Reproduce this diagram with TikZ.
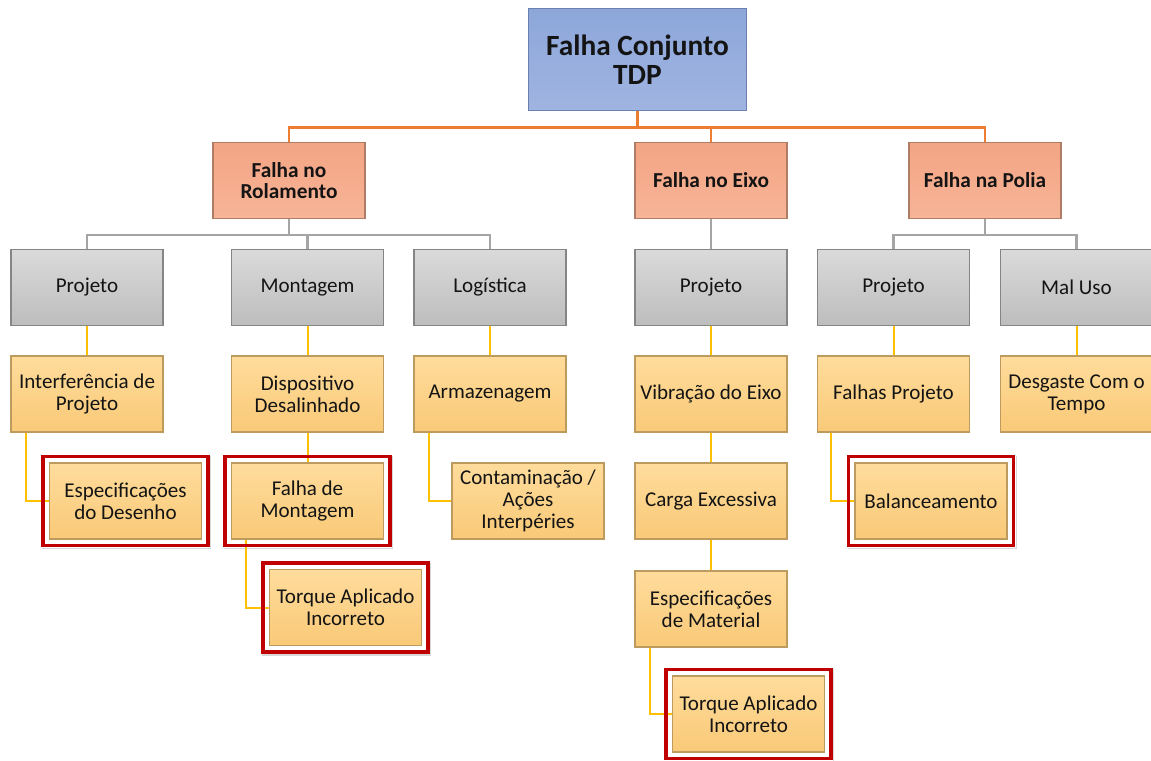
\documentclass[tikz,border=0pt]{standalone}
\usepackage{fontspec}
\setmainfont{Carlito}
\usetikzlibrary{fit,shadows}

\pgfdeclarelayer{bg}
\pgfdeclarelayer{fg}
\pgfsetlayers{bg,main,fg}

\definecolor{rootA}{HTML}{8DA7DA}
\definecolor{rootB}{HTML}{A0B4E1}
\definecolor{rootline}{HTML}{6B80AE}
\definecolor{salA}{HTML}{F3A584}
\definecolor{salB}{HTML}{F7B497}
\definecolor{salline}{HTML}{AF7C66}
\definecolor{grayA}{HTML}{DADADA}
\definecolor{grayB}{HTML}{BDBDBD}
\definecolor{grayline}{HTML}{858585}
\definecolor{yelA}{HTML}{FFDC9C}
\definecolor{yelB}{HTML}{F9C977}
\definecolor{yelline}{HTML}{BD9A5E}
\definecolor{linkorange}{HTML}{ED7D31}
\definecolor{linkgray}{HTML}{A5A5A5}
\definecolor{linkgold}{HTML}{FFC000}
\definecolor{ringred}{HTML}{C00000}
\definecolor{ink}{HTML}{141414}

\begin{document}
\begin{tikzpicture}[x=0.75pt,y=-0.75pt,
  box/.style={draw, line width=0.8pt, minimum width=114pt, minimum height=57pt,
    inner sep=0pt, align=center, text=ink},
  rootbox/.style={box, top color=rootA, bottom color=rootB, draw=rootline,
    minimum width=164pt, minimum height=77pt,
    font=\fontsize{22}{21.5}\selectfont\bfseries},
  catbox/.style={box, top color=salA, bottom color=salB, draw=salline,
    font=\fontsize{16}{15.5}\selectfont\bfseries},
  groupbox/.style={box, top color=grayA, bottom color=grayB, draw=grayline,
    font=\fontsize{15.8}{16.5}\selectfont},
  causebox/.style={box, top color=yelA, bottom color=yelB, draw=yelline,
    font=\fontsize{15.8}{16.5}\selectfont},
  obus/.style={draw=linkorange, line width=1.9pt},
  gbus/.style={draw=linkgray, line width=1.9pt},
  ylink/.style={draw=linkgold, line width=1.5pt},
  ringback/.style={fill=white, draw=none, inner sep=6pt,
    drop shadow={opacity=0.3, shadow xshift=1pt, shadow yshift=-1.2pt}},
  ring/.style={draw=ringred, line width=2.7pt, inner sep=4.6pt}
]
\begin{pgfonlayer}{bg}
  \fill[white] (0,0) rectangle (1151,760);
\end{pgfonlayer}
\useasboundingbox (0,0) rectangle (1151,760);

% root
\node[rootbox] (root) at (637.5,59.5) {Falha Conjunto\\TDP};

% failure categories
\node[catbox] (rol)   at (289,180.5) {Falha no\\Rolamento};
\node[catbox] (eixo)  at (711,180.5) {Falha no Eixo};
\node[catbox] (polia) at (985,180.5) {Falha na Polia};

% groups
\node[groupbox] (rproj) at (87,287.5)    {Projeto};
\node[groupbox] (rmont) at (307.5,287.5) {Montagem};
\node[groupbox] (rlog)  at (490,287.5)   {Logística};
\node[groupbox] (eproj) at (711,287.5)   {Projeto};
\node[groupbox] (pproj) at (893.5,287.5) {Projeto};
\node[groupbox] (pmal)  at (1076.5,287.5){Mal Uso};

% causes, first level
\node[causebox] (interf) at (87,394)     {Interferência de\\Projeto};
\node[causebox] (disp)   at (307.5,394)  {Dispositivo\\Desalinhado};
\node[causebox] (armaz)  at (490,394)    {Armazenagem};
\node[causebox] (vibr)   at (711,394)    {Vibração do Eixo};
\node[causebox] (fproj)  at (893.5,394)  {Falhas Projeto};
\node[causebox] (desg)   at (1076.5,394) {Desgaste Com o\\Tempo};

% causes, second level
\node[causebox] (espd)   at (125.5,501) {Especificações\\do Desenho};
\node[causebox] (fmont)  at (307.5,501) {Falha de\\Montagem};
\node[causebox] (contam) at (528,501)   {Contaminação /\\Ações\\Interpéries};
\node[causebox] (carga)  at (711,501)   {Carga Excessiva};
\node[causebox] (balan)  at (931,501)   {Balanceamento};

% causes, deeper levels
\node[causebox] (torqa) at (345.5,607.5) {Torque Aplicado\\Incorreto};
\node[causebox] (espm)  at (711,609)     {Especificações\\de Material};
\node[causebox] (torqb) at (748.5,714)   {Torque Aplicado\\Incorreto};

% root to categories
\draw[obus] (root.south) -- ([yshift=-12pt]root.south) -| (rol.north);
\draw[obus] ([yshift=-12pt]root.south) -| (eixo.north);
\draw[obus] ([yshift=-12pt]root.south) -| (polia.north);

% categories to groups
\draw[gbus] (rol.south) -- ([yshift=-12pt]rol.south) -| (rproj.north);
\draw[gbus] ([yshift=-12pt]rol.south) -| (rmont.north);
\draw[gbus] ([yshift=-12pt]rol.south) -| (rlog.north);
\draw[gbus] (eixo.south) -- (eproj.north);
\draw[gbus] (polia.south) -- ([yshift=-12pt]polia.south) -| (pproj.north);
\draw[gbus] ([yshift=-12pt]polia.south) -| (pmal.north);

% groups to causes
\draw[ylink] (rproj.south) -- (interf.north);
\draw[ylink] (rmont.south) -- (disp.north);
\draw[ylink] (rlog.south)  -- (armaz.north);
\draw[ylink] (eproj.south) -- (vibr.north);
\draw[ylink] (pproj.south) -- (fproj.north);
\draw[ylink] (pmal.south)  -- (desg.north);

% cause chains
\draw[ylink] (disp.south) -- (fmont.north);
\draw[ylink] (vibr.south) -- (carga.north);
\draw[ylink] (carga.south) -- (espm.north);
\draw[ylink] ([xshift=12pt]interf.south west) |- (espd.west);
\draw[ylink] ([xshift=11pt]fmont.south west) |- (torqa.west);
\draw[ylink] ([xshift=12pt]armaz.south west) |- (contam.west);
\draw[ylink] ([xshift=12pt]espm.south west) |- (torqb.west);
\draw[ylink] ([xshift=10.5pt]fproj.south west) |- (balan.west);

% highlighted root causes
\begin{pgfonlayer}{bg}
  \foreach \n in {espd,fmont,torqa,balan,torqb}
    \node[ringback, fit=(\n)] (\n-back) {};
\end{pgfonlayer}
\begin{pgfonlayer}{fg}
  \foreach \n in {espd,fmont,torqa,balan,torqb}
    \node[ring, fit=(\n)] (\n-ring) {};
\end{pgfonlayer}
\end{tikzpicture}
\end{document}
